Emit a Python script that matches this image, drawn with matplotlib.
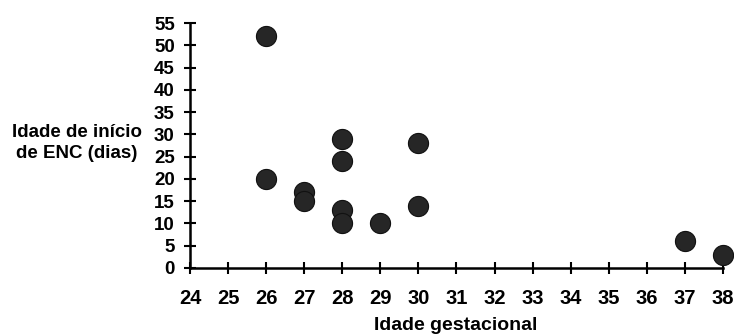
import matplotlib
matplotlib.use("Agg")
import matplotlib.pyplot as plt

# Data
gest_age = [26, 26, 27, 27, 28, 28, 28, 28, 29, 30, 30, 37, 38]
onset_days = [52, 20, 17, 15, 29, 24, 13, 10, 10, 28, 14, 6, 3]
x_ticks = list(range(24, 39))
y_ticks = list(range(0, 56, 5))

plt.rcParams['font.family'] = ['Liberation Sans', 'DejaVu Sans']
W, H = 734, 336
fig = plt.figure(figsize=(W / 100, H / 100), dpi=100)
ax = fig.add_axes([190 / W, 1 - 268 / H, (723 - 190) / W, (268 - 23) / H])

ax.scatter(gest_age, onset_days, s=210, color='#262626', edgecolors='#111111',
           linewidths=0.8, zorder=3, clip_on=False)

ax.set_xlim(24, 38)
ax.set_ylim(0, 55)
ax.set_xticks(x_ticks)
ax.set_yticks(y_ticks)
for s in ['top', 'right']:
    ax.spines[s].set_visible(False)
for s in ['left', 'bottom']:
    ax.spines[s].set_linewidth(1.8)
ax.tick_params(axis='both', direction='inout', length=8, width=1.5)
ax.tick_params(axis='x', pad=11, labelsize=14.5)
ax.tick_params(axis='y', pad=7, labelsize=13.5)
for lab in ax.get_xticklabels() + ax.get_yticklabels():
    lab.set_fontweight('bold')

fig.text(77 / W, 1 - 143 / H, "Idade de início\nde ENC (dias)", ha='center', va='center',
         fontsize=13.5, fontweight='bold', linespacing=1.25)
fig.text(456 / W, 1 - 326 / H, "Idade gestacional", ha='center', va='center',
         fontsize=14, fontweight='bold')

fig.savefig("out.png", dpi=100)
